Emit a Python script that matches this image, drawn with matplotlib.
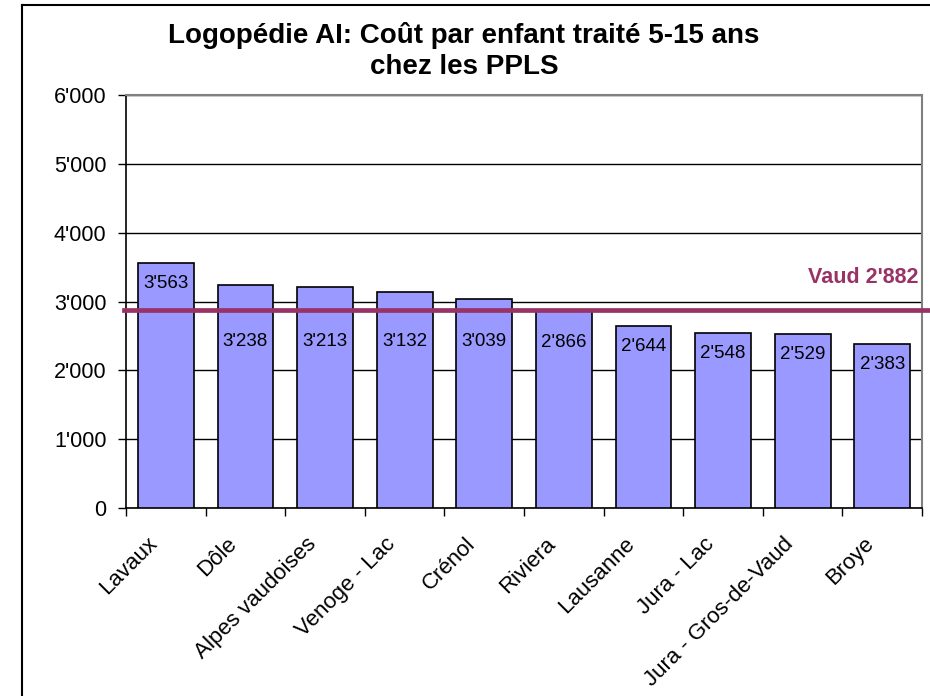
import matplotlib.pyplot as plt
import matplotlib.transforms as mtransforms
from matplotlib.ticker import FuncFormatter
import numpy as np

plt.rcParams['font.family'] = ['Liberation Sans', 'DejaVu Sans']

regions = ["Lavaux", "Dôle", "Alpes vaudoises", "Venoge - Lac", "Crénol",
           "Riviera", "Lausanne", "Jura - Lac", "Jura - Gros-de-Vaud", "Broye"]
cost = [3563, 3238, 3213, 3132, 3039, 2866, 2644, 2548, 2529, 2383]
vaud = 2882
title_lines = ["Logopédie AI: Coût par enfant traité 5-15 ans", "chez les PPLS"]

def swiss(v):
    s = f"{int(v):,}"
    return s.replace(",", "'")

fig = plt.figure(figsize=(9.3, 6.96), dpi=100)
ax = fig.add_axes([0.1355, 0.270, 0.856, 0.5935])

x = np.arange(len(regions))
ax.bar(x, cost, width=0.7, color="#9999FF", edgecolor="black", linewidth=1.2, zorder=3)

# average line for the canton
ax.axhline(vaud, xmin=-0.003, xmax=1.0085, color="#993366", linewidth=3.4,
           clip_on=False, zorder=4)
ax.text(9.45, vaud + 470, f"Vaud {swiss(vaud)}", ha="right", va="center",
        fontsize=15.5, fontweight="bold", color="#993366")

# value labels inside the bars, pushed below the Vaud line when they would touch it
for xi, v in zip(x, cost):
    y = v - 300
    if vaud - 400 < y < vaud + 250:
        y = min(v, vaud) - 460
    ax.text(xi, y, swiss(v), ha="center", va="center", fontsize=13.5, zorder=5)

ax.set_xlim(-0.5, len(regions) - 0.5)
ax.set_ylim(0, 6000)
ax.set_yticks(range(0, 6001, 1000))
ax.yaxis.set_major_formatter(FuncFormatter(lambda v, p: swiss(v)))
ax.yaxis.grid(True, color="black", linewidth=1.0, zorder=0)

# category labels drawn by hand so they can sit slightly left of the bar centres
ax.set_xticks(x)
ax.set_xticklabels([])
ax.set_xticks(np.arange(-0.5, len(regions), 1.0), minor=True)
shift = mtransforms.ScaledTranslation(-8.6 / 72, -23.4 / 72, fig.dpi_scale_trans)
for xi, name in zip(x, regions):
    ax.text(xi, 0, name, rotation=45, ha="right", va="center", rotation_mode="anchor",
            fontsize=16, transform=ax.get_xaxis_transform() + shift, clip_on=False)
ax.tick_params(axis="x", which="major", length=0)
ax.tick_params(axis="x", which="minor", length=6, direction="out", width=1)
ax.tick_params(axis="y", length=6, direction="out", width=1, labelsize=15.5, pad=8)

for side in ["top", "right"]:
    ax.spines[side].set_color("#808080")
    ax.spines[side].set_linewidth(1.5)
for side in ["left", "bottom"]:
    ax.spines[side].set_color("black")
    ax.spines[side].set_linewidth(1.2)

fig.text(0.499, 1 - 43 / 696, title_lines[0], ha="center", va="baseline",
         fontsize=20, fontweight="bold")
fig.text(0.499, 1 - 74 / 696, title_lines[1], ha="center", va="baseline",
         fontsize=20, fontweight="bold")

# outer frame (left and top only visible)
fig.add_artist(plt.Line2D([0.0237, 0.0237], [0, 0.9925], color="black", linewidth=1.5,
                          transform=fig.transFigure))
fig.add_artist(plt.Line2D([0.0237, 1.0], [0.9925, 0.9925], color="black", linewidth=1.5,
                          transform=fig.transFigure))

fig.savefig("out.png", dpi=100)
